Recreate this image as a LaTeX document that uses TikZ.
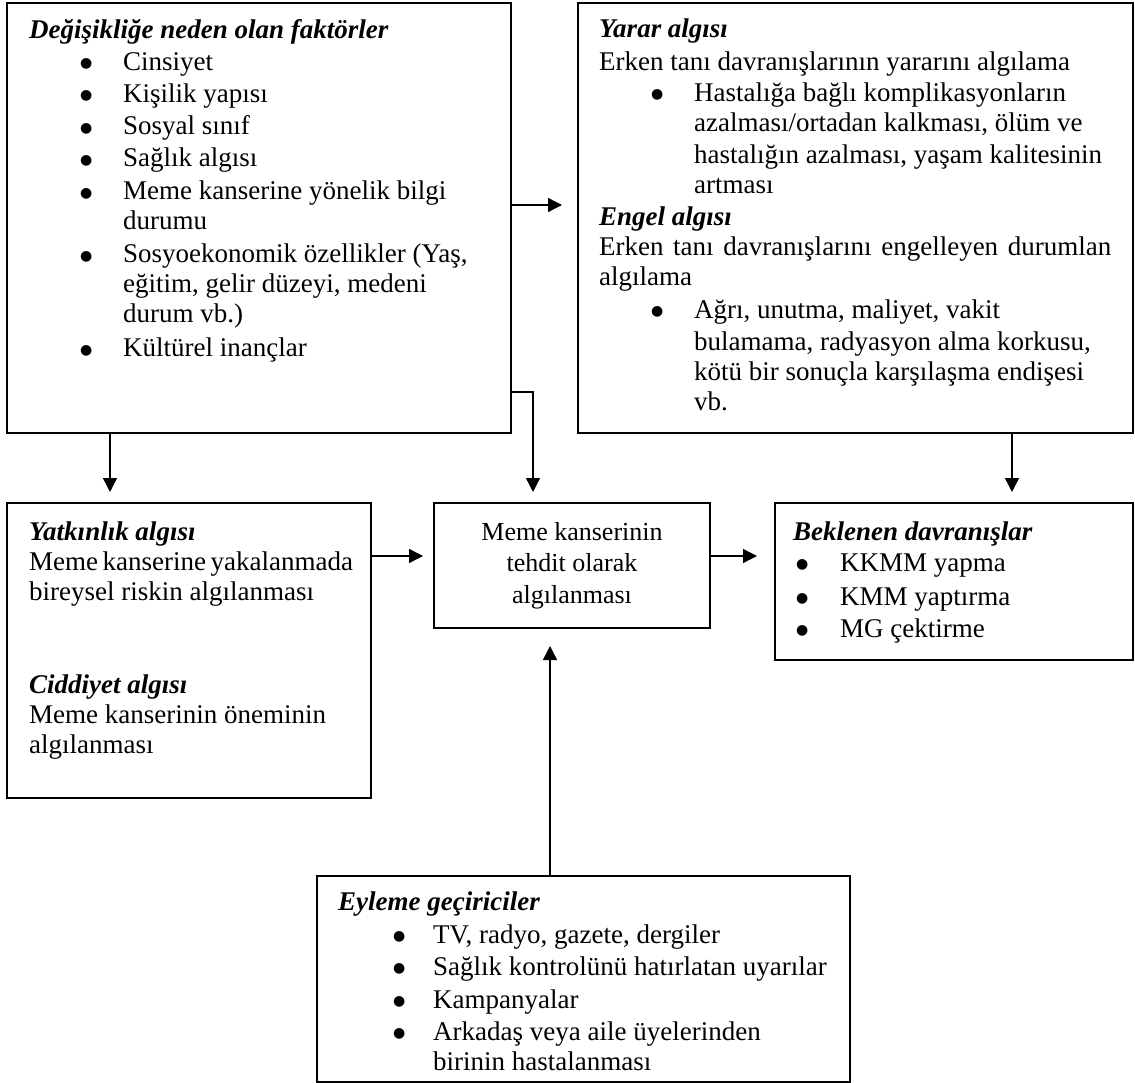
\documentclass[tikz,border=0pt]{standalone}
\usepackage{fontspec}
\setmainfont{Liberation Serif}
\newfontfamily\symfont{DejaVu Sans}
\usetikzlibrary{arrows.meta}
\newcommand{\bul}[2]{\makebox[#2pt][l]{\hspace*{#1pt}\raisebox{2.6pt}{\symfont\fontsize{14}{14}\selectfont ●}}}
\newcommand{\myind}[1]{\hspace*{#1pt}}
\newcommand{\hdr}[1]{\textbf{\textit{#1}}}
\newcommand{\st}{\rule{0pt}{20pt}}
\tikzset{
  box/.style={draw, line width=1.6pt, inner sep=0pt, outer sep=0pt, anchor=north west},
  txt/.style={anchor=north west, inner sep=0pt, align=left, font=\fontsize{27}{30}\selectfont},
  arr/.style={-{Triangle[length=14pt,width=14pt]}, line width=1.4pt},
}
\begin{document}
\begin{tikzpicture}[x=1pt,y=-1pt]
\useasboundingbox (0,0) rectangle (1135,1083);
% boxes
\node[box, minimum width=504pt, minimum height=430pt] (A) at (7,3) {};
\node[box, minimum width=555pt, minimum height=430pt] (B) at (578,3) {};
\node[box, minimum width=364pt, minimum height=295pt] (C) at (7,503) {};
\node[box, minimum width=276pt, minimum height=125pt, align=center, font=\fontsize{26}{31.5}\selectfont] (D) at (434,503) {Meme kanserinin\\tehdit olarak\\algılanması};
\node[box, minimum width=358pt, minimum height=157pt] (E) at (775,503) {};
\node[box, minimum width=533pt, minimum height=206pt] (F) at (317,876) {};
% texts
\node[txt] (tA) at (29,18) {\st\hdr{Değişikliğe neden olan faktörler}\\[2pt]
\bul{51}{94}Cinsiyet\\[2pt]
\bul{51}{94}Kişilik yapısı\\[2.5pt]
\bul{51}{94}Sosyal sınıf\\[2pt]
\bul{51}{94}Sağlık algısı\\[3pt]
\bul{51}{94}Meme kanserine yönelik bilgi\\
\myind{94}durumu\\[3pt]
\bul{51}{94}Sosyoekonomik özellikler (Yaş,\\
\myind{94}eğitim, gelir düzeyi, medeni\\
\myind{94}durum vb.)\\[4pt]
\bul{51}{94}Kültürel inançlar};
\node[txt] (tB) at (599,17) {\st\hdr{Yarar algısı}\\[3pt]
Erken tanı davranışlarının yararını algılama\\[1pt]
\bul{52}{95}Hastalığa bağlı komplikasyonların\\
\myind{95}azalması/ortadan kalkması, ölüm ve\\[2pt]
\myind{95}hastalığın azalması, yaşam kalitesinin\\
\myind{95}artması\\[2pt]
\hdr{Engel algısı}\\
\makebox[512pt][s]{Erken tanı davranışlarını engelleyen durumlan}\\
algılama\\[3pt]
\bul{52}{95}Ağrı, unutma, maliyet, vakit\\[2pt]
\myind{95}bulamama, radyasyon alma korkusu,\\
\myind{95}kötü bir sonuçla karşılaşma endişesi\\
\myind{95}vb.};
\node[txt] (tC) at (29,520) {\st\hdr{Yatkınlık algısı}\\
\makebox[321pt][s]{Meme kanserine yakalanmada}\\
bireysel riskin algılanması\\[63pt]
\hdr{Ciddiyet algısı}\\
Meme kanserinin öneminin\\
algılanması};
\node[txt] (tE) at (793,520) {\st\hdr{Beklenen davranışlar}\\[1pt]
\bul{3}{47}KKMM yapma\\[4pt]
\bul{3}{47}KMM yaptırma\\[2pt]
\bul{3}{47}MG çektirme};
\node[txt] (tF) at (338,890) {\st\hdr{Eyleme geçiriciler}\\[3pt]
\bul{55}{95}TV, radyo, gazete, dergiler\\[2pt]
\bul{55}{95}Sağlık kontrolünü hatırlatan uyarılar\\[3pt]
\bul{55}{95}Kampanyalar\\[2pt]
\bul{55}{95}Arkadaş veya aile üyelerinden\\
\myind{95}birinin hastalanması};
% connectors
\coordinate (ab) at (A.east |- 0,205);
\draw[arr, shorten >=16pt] (ab) -- (ab -| B.west);
\coordinate (xac) at (110,0);
\draw[arr, shorten >=11pt] (xac |- A.south) -- (xac |- C.north);
\coordinate (ad1) at (A.east |- 0,293);
\coordinate (ad2) at (A.east |- 0,392);
\coordinate (ad3) at (533,392);
\draw[arr, shorten >=11pt] (ad1) -- (ad2) -- (ad3) -- (ad3 |- D.north);
\coordinate (xbe) at (1012,0);
\draw[arr, shorten >=11pt] (xbe |- B.south) -- (xbe |- E.north);
\coordinate (ycd) at (0,556);
\draw[arr, shorten >=11pt] (C.east |- ycd) -- (D.west |- ycd);
\draw[arr, shorten >=18pt] (D.east |- ycd) -- (E.west |- ycd);
\coordinate (xfd) at (550,0);
\draw[arr, shorten >=18pt] (xfd |- F.north) -- (xfd |- D.south);
\end{tikzpicture}
\end{document}
